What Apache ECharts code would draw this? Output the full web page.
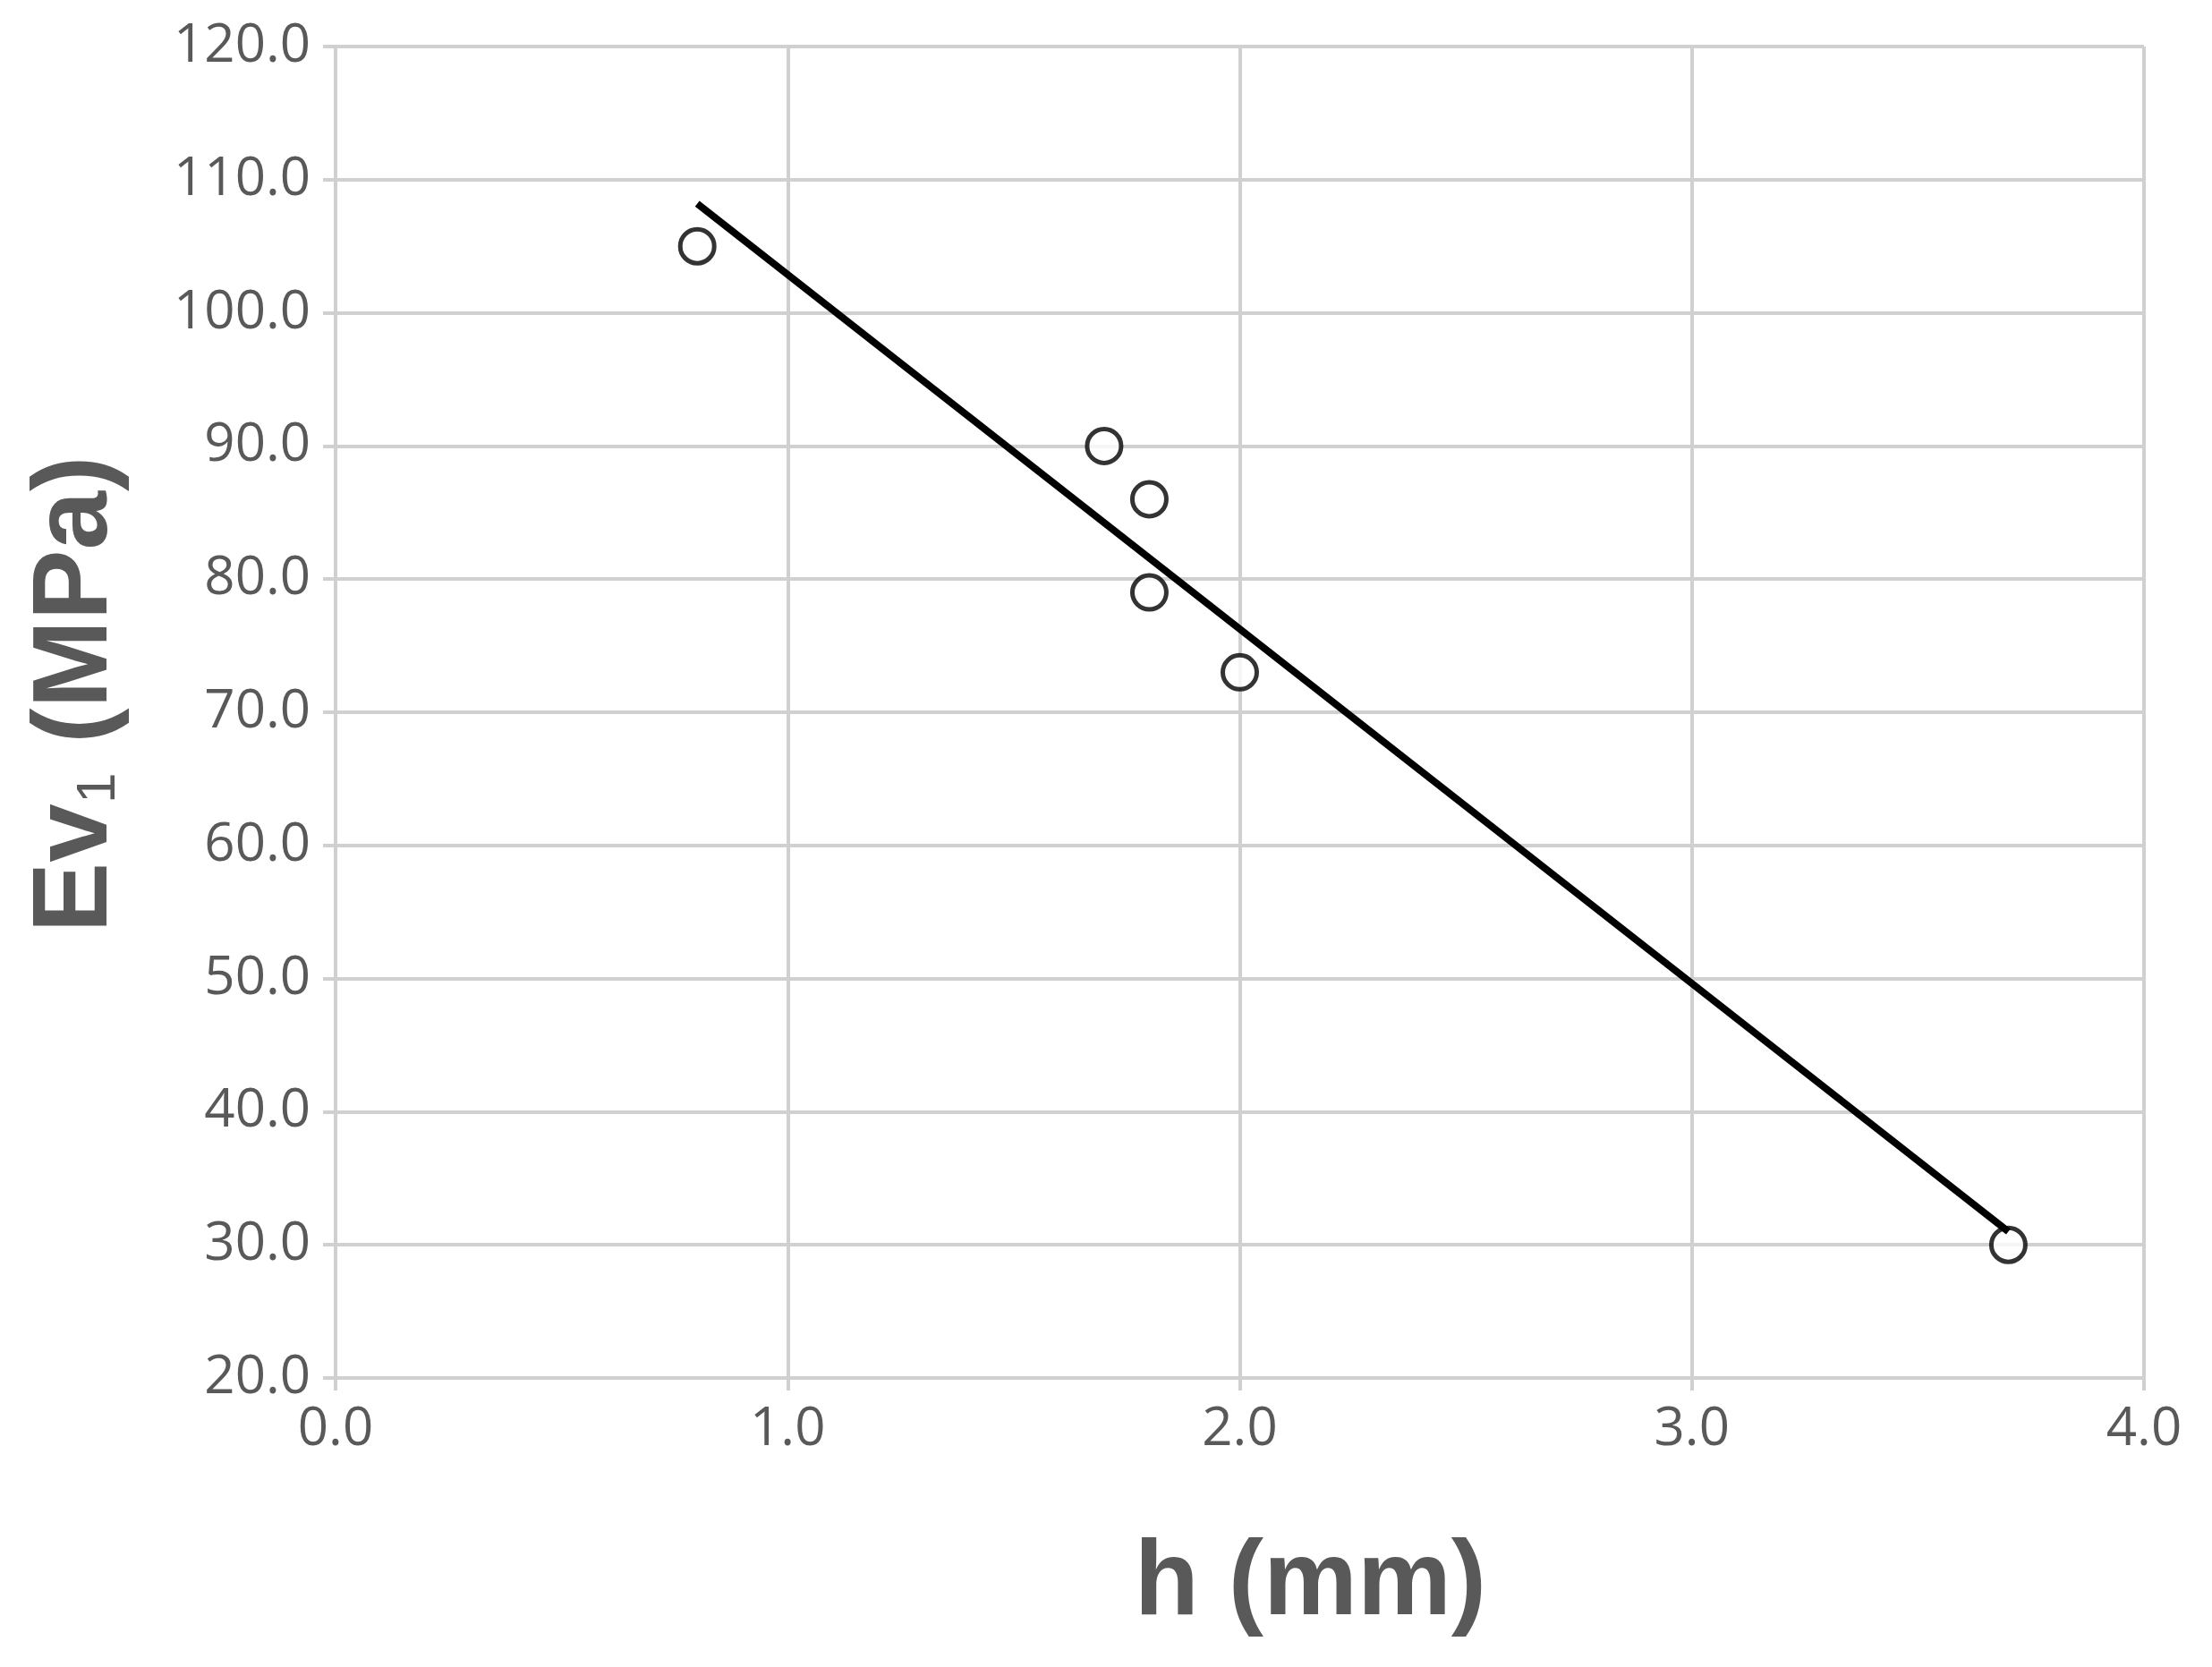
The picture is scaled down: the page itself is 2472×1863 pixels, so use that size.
<!DOCTYPE html>
<html>
<head>
<meta charset="utf-8">
<script src="https://cdn.jsdelivr.net/npm/echarts@6/dist/echarts.min.js"></script>
<style>html,body{margin:0;background:#fff}#main{width:2472px;height:1863px}</style>
</head>
<body>
<div id="main"></div>
<script>
// measured points: h (mm), Ev1 (MPa)
let hVals = [0.8, 1.7, 1.8, 1.8, 2.0, 3.7];
let evVals = [105, 90, 86, 79, 73, 30];
// linear trendline end points
let trendLine = [[0.8, 108.2], [3.7, 31.0]];

let points = hVals.map((h, i) => [h, evVals[i]]);
let myChart = echarts.init(document.getElementById('main'));
let tickFont = {color: '#595959', fontSize: 60, fontFamily: 'Open Sans'};
let option = {
    animation: false,
    grid: {left: 375, right: 76, top: 52, bottom: 323},
    xAxis: {
        type: 'value', min: 0, max: 4, interval: 1,
        axisLabel: Object.assign({formatter: v => v.toFixed(1), margin: 28}, tickFont),
        axisLine: {lineStyle: {color: '#d0d0d0', width: 4}},
        axisTick: {show: true, length: 14, lineStyle: {color: '#d0d0d0', width: 4}},
        splitLine: {lineStyle: {color: '#d0d0d0', width: 4}},
        name: 'h (mm)', nameLocation: 'middle', nameGap: 172,
        nameTextStyle: {fontSize: 118, fontWeight: 'bold', color: '#595959', fontFamily: 'Liberation Sans', padding: [0, 0, 0, 158]}
    },
    yAxis: {
        type: 'value', min: 20, max: 120, interval: 10,
        axisLabel: Object.assign({formatter: v => v.toFixed(1), margin: 28}, tickFont),
        axisLine: {show: true, lineStyle: {color: '#d0d0d0', width: 4}},
        axisTick: {show: true, length: 14, lineStyle: {color: '#d0d0d0', width: 4}},
        splitLine: {lineStyle: {color: '#d0d0d0', width: 4}},
        name: '{m|Ev}{s|1}{m| (MPa)}', nameLocation: 'middle', nameGap: 230,
        nameTextStyle: {
            padding: [0, 0, 0, 40],
            rich: {
                m: {fontSize: 118, fontWeight: 'bold', color: '#595959', fontFamily: 'Liberation Sans'},
                s: {fontSize: 62, color: '#595959', fontFamily: 'Liberation Sans', padding: [50, 0, 0, 0]}
            }
        }
    },
    series: [
        {
            type: 'line', data: trendLine, symbol: 'none',
            lineStyle: {color: '#000', width: 8}
        },
        {
            type: 'scatter', data: points, symbol: 'circle', symbolSize: 38,
            itemStyle: {color: '#fff', borderColor: '#000', borderWidth: 5}
        }
    ]
};
myChart.setOption(option);
</script>
</body>
</html>
